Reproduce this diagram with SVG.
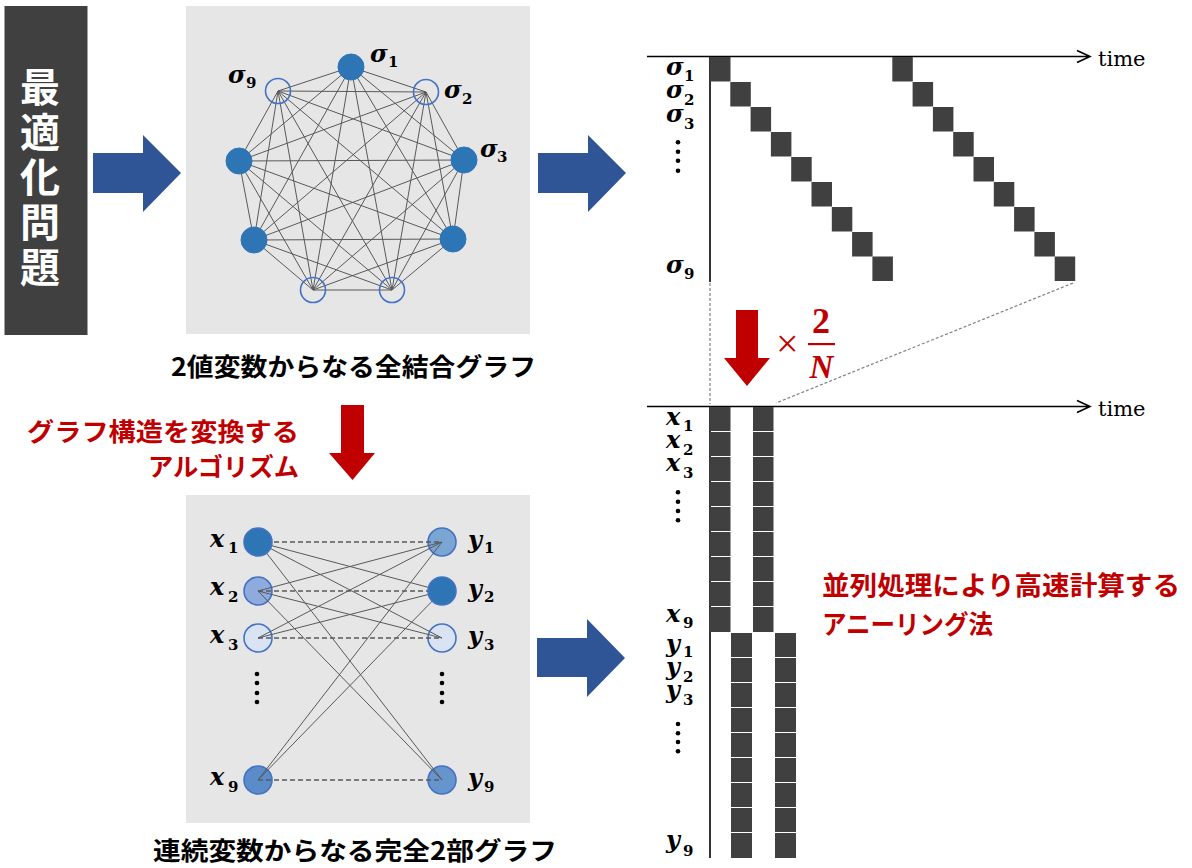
<svg xmlns="http://www.w3.org/2000/svg" width="1192" height="868" viewBox="0 0 1192 868">
<style>
.jp{font-family:"Noto Sans CJK JP","Noto Sans CJK SC",sans-serif;font-weight:bold}
.m{font-family:"DejaVu Serif","Liberation Serif",serif;font-weight:bold;font-style:italic;font-size:24px;fill:#000}
.s{font-family:"DejaVu Serif","Liberation Serif",serif;font-weight:bold;font-style:normal;font-size:15px}
.edge{stroke:#595959;stroke-width:1;fill:none}
.dash{stroke:#595959;stroke-width:1.6;stroke-dasharray:5 3;fill:none}
.sq{fill:#404040}
.blue{fill:#2F5597}
.red{fill:#C00000}
.open{fill:none;stroke:#4472C4;stroke-width:1.6}
.full{fill:#2E75B6;stroke:#2E75B6;stroke-width:1}
.bn{stroke:#4472C4;stroke-width:1.6}
.gd{stroke:#808080;stroke-width:1.2;stroke-dasharray:3 2;fill:none}
.ax{stroke:#000;stroke-width:1.6;fill:none}
</style>

<!-- left label -->
<g id="title">
<rect x="4.5" y="6" width="83" height="329" fill="#404040"/>
<text class="jp" x="40" y="67" font-size="40" fill="#fff" writing-mode="vertical-rl" letter-spacing="5">最適化問題</text>
</g>

<!-- blue and red arrows -->
<g id="arrows">
<polygon class="blue" points="93,153 143,153 143,135 181,173 143,212 143,193 93,193"/>
<polygon class="blue" points="538,153 588,153 588,135 626,173 588,212 588,193 538,193"/>
<polygon class="blue" points="537,638 587,638 587,619 625,658 587,697 587,677 537,677"/>
<polygon class="red" points="341,405 364,405 364,453 375,453 352.5,480 329,453 341,453"/>
<polygon class="red" points="736,310 758,310 758,358 770,358 747,386 724,358 736,358"/>
</g>

<!-- top graph -->
<g id="graph-top">
<rect x="186" y="6" width="344" height="328" fill="#E7E6E6"/>
</g>
<g id="connectors-top">
<path class="edge" d="M351 67L426 92M351 67L464 160M351 67L453 239M351 67L392 290M351 67L313 290M351 67L254 240M351 67L239 161M351 67L278 91
M426 92L464 160M426 92L453 239M426 92L392 290M426 92L313 290M426 92L254 240M426 92L239 161M426 92L278 91
M464 160L453 239M464 160L392 290M464 160L313 290M464 160L254 240M464 160L239 161M464 160L278 91
M453 239L392 290M453 239L313 290M453 239L254 240M453 239L239 161M453 239L278 91
M392 290L313 290M392 290L254 240M392 290L239 161M392 290L278 91
M313 290L254 240M313 290L239 161M313 290L278 91
M254 240L239 161M254 240L278 91
M239 161L278 91"/>
</g>
<g id="s1"><circle class="full" cx="351" cy="67" r="13"/><text class="m" x="370" y="62">σ<tspan class="s" x="388" y="67">1</tspan></text></g>
<g id="s2"><circle class="open" cx="426" cy="92" r="12.5"/><text class="m" x="444" y="98">σ<tspan class="s" x="462" y="104">2</tspan></text></g>
<g id="s3"><circle class="full" cx="464" cy="160" r="13"/><text class="m" x="480" y="157">σ<tspan class="s" x="497" y="162">3</tspan></text></g>
<g id="s4"><circle class="full" cx="453" cy="239" r="13"/></g>
<g id="s5"><circle class="open" cx="392" cy="290" r="12.5"/></g>
<g id="s6"><circle class="open" cx="313" cy="290" r="12.5"/></g>
<g id="s7"><circle class="full" cx="254" cy="240" r="13"/></g>
<g id="s8"><circle class="full" cx="239" cy="161" r="13"/></g>
<g id="s9"><circle class="open" cx="278" cy="91" r="12.5"/><text class="m" x="228" y="83">σ<tspan class="s" x="246" y="88">9</tspan></text></g>

<text class="jp" x="171" y="376" font-size="25" textLength="365" lengthAdjust="spacingAndGlyphs" fill="#000">2値変数からなる全結合グラフ</text>

<text class="jp" font-size="25" fill="#C00000"><tspan x="27" y="441" textLength="272" lengthAdjust="spacingAndGlyphs">グラフ構造を変換する</tspan></text>
<text class="jp" font-size="25" fill="#C00000"><tspan x="148" y="476" textLength="151" lengthAdjust="spacingAndGlyphs">アルゴリズム</tspan></text>

<!-- bipartite graph -->
<g id="graph-bottom">
<rect x="186" y="495" width="344" height="328" fill="#E7E6E6"/>
</g>
<g id="x2"><circle class="bn" cx="258" cy="591" r="14" fill="#8FAADC"/></g>
<g id="x3"><circle class="bn" cx="258" cy="638" r="14" fill="#DAE3F3"/></g>
<g id="x9"><circle class="bn" cx="258" cy="780" r="14" fill="#5B8CCA"/></g>
<g id="y1"><circle class="bn" cx="442" cy="542" r="14" fill="#7BA5D3"/></g>
<g id="y3"><circle class="bn" cx="442" cy="638" r="14" fill="#DAE3F3"/></g>
<g id="y9"><circle class="bn" cx="442" cy="780" r="14" fill="#6694CC"/></g>
<g id="connectors-bottom">
<path class="dash" d="M258 542H442M258 591H442M258 638H442M258 780H442"/>
<path class="edge" d="M258 542L442 591M258 542L442 638M258 542L442 780M258 591L442 542M258 591L442 638M258 591L442 780M258 638L442 542M258 638L442 591M258 780L442 542M258 780L442 591"/>
</g>
<g id="x1"><circle class="bn" cx="258" cy="542" r="14" fill="#2E75B6"/></g>
<g id="y2"><circle class="bn" cx="442" cy="591" r="14" fill="#2E75B6"/></g>
<g id="bip-labels">
<text class="m" x="210" y="547">x<tspan class="s" x="228" y="553">1</tspan></text>
<text class="m" x="210" y="595">x<tspan class="s" x="228" y="602">2</tspan></text>
<text class="m" x="210" y="643">x<tspan class="s" x="228" y="650">3</tspan></text>
<text class="m" x="210" y="785">x<tspan class="s" x="228" y="792">9</tspan></text>
<text class="m" x="468" y="548">y<tspan class="s" x="484" y="553">1</tspan></text>
<text class="m" x="468" y="597">y<tspan class="s" x="484" y="602">2</tspan></text>
<text class="m" x="468" y="644">y<tspan class="s" x="484" y="650">3</tspan></text>
<text class="m" x="468" y="786">y<tspan class="s" x="484" y="792">9</tspan></text>
<g fill="#000"><circle cx="257" cy="674" r="2.3"/><circle cx="257" cy="683" r="2.3"/><circle cx="257" cy="693" r="2.3"/><circle cx="257" cy="702" r="2.3"/>
<circle cx="442" cy="674" r="2.3"/><circle cx="442" cy="683" r="2.3"/><circle cx="442" cy="693" r="2.3"/><circle cx="442" cy="702" r="2.3"/></g>
</g>
<text class="jp" x="153" y="860" font-size="25" textLength="404" lengthAdjust="spacingAndGlyphs" fill="#000">連続変数からなる完全2部グラフ</text>

<!-- top timeline -->
<g id="timeline-top">
<path class="ax" d="M647 56.5H1090M1077 50.5L1090 56.5L1077 62.5"/>
<path class="ax" d="M710 56.5V282" stroke="#333"/>
<text x="1098" y="66" font-family="DejaVu Serif, serif" font-size="21">time</text>
<g class="sq">
<rect x="710" y="57" width="20.5" height="24.5"/><rect x="730.3" y="82" width="20.5" height="24.5"/><rect x="750.6" y="107" width="20.5" height="24.5"/><rect x="770.9" y="132" width="20.5" height="24.5"/><rect x="791.2" y="157" width="20.5" height="24.5"/><rect x="811.5" y="182" width="20.5" height="24.5"/><rect x="831.8" y="207" width="20.5" height="24.5"/><rect x="852.1" y="232" width="20.5" height="24.5"/><rect x="872.4" y="256.5" width="20.5" height="24.5"/>
<rect x="892.3" y="57" width="20.5" height="24.5"/><rect x="912.6" y="82" width="20.5" height="24.5"/><rect x="932.9" y="107" width="20.5" height="24.5"/><rect x="953.2" y="132" width="20.5" height="24.5"/><rect x="973.5" y="157" width="20.5" height="24.5"/><rect x="993.8" y="182" width="20.5" height="24.5"/><rect x="1014.1" y="207" width="20.5" height="24.5"/><rect x="1034.4" y="232" width="20.5" height="24.5"/><rect x="1054.7" y="256.5" width="20.5" height="24.5"/>
</g>
<text class="m" x="666" y="75">σ<tspan class="s" x="684" y="81">1</tspan></text>
<text class="m" x="666" y="98">σ<tspan class="s" x="684" y="105">2</tspan></text>
<text class="m" x="666" y="122">σ<tspan class="s" x="684" y="129">3</tspan></text>
<text class="m" x="666" y="273">σ<tspan class="s" x="684" y="279">9</tspan></text>
<g fill="#000"><circle cx="678" cy="142.3" r="2.3"/><circle cx="678" cy="151.7" r="2.3"/><circle cx="678" cy="160.7" r="2.3"/><circle cx="678" cy="170.7" r="2.3"/></g>
</g>

<g id="connectors-guides">
<path class="gd" d="M710 283V404M1073 283L776 403"/>
</g>

<g id="scale-label" fill="#C00000">
<text x="776" y="357" font-family="Liberation Serif, serif" font-size="40">×</text>
<text x="821" y="333" font-family="Liberation Serif, serif" font-weight="bold" font-size="36" text-anchor="middle">2</text>
<rect x="808" y="343" width="27" height="2.2"/>
<text x="821.5" y="378" font-family="Liberation Serif, serif" font-weight="bold" font-style="italic" font-size="33" text-anchor="middle">N</text>
</g>

<!-- bottom timeline -->
<g id="timeline-bottom">
<path class="ax" d="M647 406.5H1090M1077 400.5L1090 406.5L1077 412.5"/>
<path class="ax" d="M710 406.5V858" stroke="#333"/>
<text x="1098" y="416" font-family="DejaVu Serif, serif" font-size="21">time</text>
<g class="sq">
<rect x="709.5" y="407" width="21" height="24"/><rect x="709.5" y="432" width="21" height="24"/><rect x="709.5" y="457" width="21" height="24"/><rect x="709.5" y="482" width="21" height="24"/><rect x="709.5" y="507" width="21" height="24"/><rect x="709.5" y="532" width="21" height="24"/><rect x="709.5" y="557" width="21" height="24"/><rect x="709.5" y="582" width="21" height="24"/><rect x="709.5" y="607" width="21" height="25"/>
<rect x="753" y="407" width="20.5" height="24"/><rect x="753" y="432" width="20.5" height="24"/><rect x="753" y="457" width="20.5" height="24"/><rect x="753" y="482" width="20.5" height="24"/><rect x="753" y="507" width="20.5" height="24"/><rect x="753" y="532" width="20.5" height="24"/><rect x="753" y="557" width="20.5" height="24"/><rect x="753" y="582" width="20.5" height="24"/><rect x="753" y="607" width="20.5" height="25"/>
<rect x="731" y="633" width="21" height="24"/><rect x="731" y="658" width="21" height="24"/><rect x="731" y="683" width="21" height="24"/><rect x="731" y="708" width="21" height="24"/><rect x="731" y="733" width="21" height="24"/><rect x="731" y="758" width="21" height="24"/><rect x="731" y="783" width="21" height="24"/><rect x="731" y="808" width="21" height="24"/><rect x="731" y="833" width="21" height="25"/>
<rect x="775" y="633" width="21" height="24"/><rect x="775" y="658" width="21" height="24"/><rect x="775" y="683" width="21" height="24"/><rect x="775" y="708" width="21" height="24"/><rect x="775" y="733" width="21" height="24"/><rect x="775" y="758" width="21" height="24"/><rect x="775" y="783" width="21" height="24"/><rect x="775" y="808" width="21" height="24"/><rect x="775" y="833" width="21" height="25"/>
</g>
<text class="m" x="666" y="425">x<tspan class="s" x="683" y="431">1</tspan></text>
<text class="m" x="666" y="448">x<tspan class="s" x="683" y="455">2</tspan></text>
<text class="m" x="666" y="471">x<tspan class="s" x="683" y="478">3</tspan></text>
<text class="m" x="666" y="622">x<tspan class="s" x="683" y="628">9</tspan></text>
<g fill="#000"><circle cx="678" cy="492.3" r="2.3"/><circle cx="678" cy="501.7" r="2.3"/><circle cx="678" cy="511" r="2.3"/><circle cx="678" cy="520.3" r="2.3"/></g>
<text class="m" x="666" y="652">y<tspan class="s" x="683" y="657">1</tspan></text>
<text class="m" x="666" y="675">y<tspan class="s" x="683" y="682">2</tspan></text>
<text class="m" x="666" y="698">y<tspan class="s" x="683" y="705">3</tspan></text>
<text class="m" x="666" y="848">y<tspan class="s" x="683" y="856">9</tspan></text>
<g fill="#000"><circle cx="678" cy="724" r="2.3"/><circle cx="678" cy="733.3" r="2.3"/><circle cx="678" cy="742" r="2.3"/><circle cx="678" cy="751.3" r="2.3"/></g>
</g>

<text class="jp" font-size="26" fill="#C00000"><tspan x="822" y="595" textLength="358" lengthAdjust="spacingAndGlyphs">並列処理により高速計算する</tspan></text>
<text class="jp" font-size="26" fill="#C00000"><tspan x="822" y="634" textLength="171" lengthAdjust="spacingAndGlyphs">アニーリング法</tspan></text>
</svg>
